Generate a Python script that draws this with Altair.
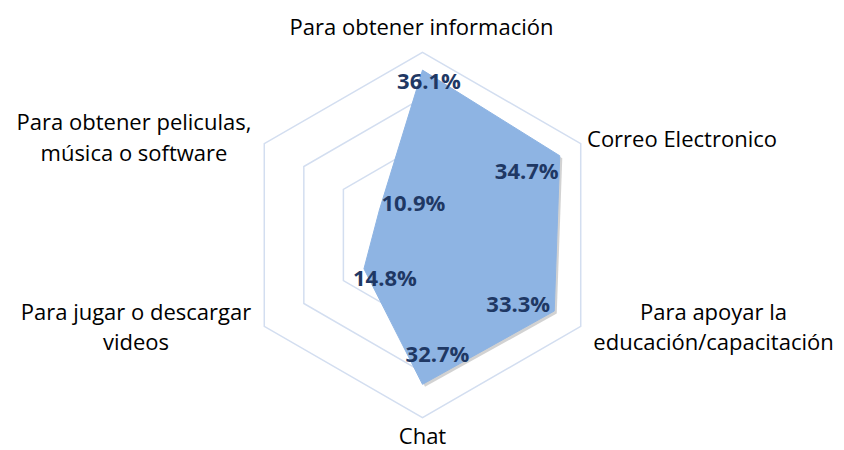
import math
import altair as alt
import pandas as pd

# ---- data ----
categories = [
    "Para obtener información",
    "Correo Electronico",
    "Para apoyar la educación/capacitación",
    "Chat",
    "Para jugar o descargar videos",
    "Para obtener peliculas, música o software",
]
category_lines = [
    ["Para obtener información"],
    ["Correo Electronico"],
    ["Para apoyar la", "educación/capacitación"],
    ["Chat"],
    ["Para jugar o descargar", "videos"],
    ["Para obtener peliculas,", "música o software"],
]
values = [36.1, 34.7, 33.3, 32.7, 14.8, 10.9]
value_labels = ["36.1%", "34.7%", "33.3%", "32.7%", "14.8%", "10.9%"]
grid_levels = [10, 20, 30, 40]

# ---- layout (pixels) ----
W, H = 828, 442
CX, CY = 414.5, 227.0          # centre inside the plot area
PX_PER_UNIT = 182.7 / 40.0     # outer ring (40%) radius in px

x_dom = [-CX / PX_PER_UNIT, (W - CX) / PX_PER_UNIT]
y_dom = [-(H - CY) / PX_PER_UNIT, CY / PX_PER_UNIT]
xs = alt.Scale(domain=x_dom, nice=False, zero=False)
ys = alt.Scale(domain=y_dom, nice=False, zero=False)

n = len(categories)
ang = [2 * math.pi * i / n for i in range(n)]


def polar(r, a):
    return r * math.sin(a), r * math.cos(a)


# grid rings
grid_rows = []
for lv in grid_levels:
    for i in range(n):
        x, y = polar(lv, ang[i])
        grid_rows.append({"level": lv, "i": i, "x": x, "y": y})
grid_df = pd.DataFrame(grid_rows)

# data polygon
poly_rows = []
for i in range(n):
    x, y = polar(values[i], ang[i])
    poly_rows.append({"i": i, "cat": categories[i], "v": values[i],
                      "label": value_labels[i], "x": x, "y": y})
poly_df = pd.DataFrame(poly_rows)

enc = dict(
    x=alt.X("x:Q", scale=xs, axis=None),
    y=alt.Y("y:Q", scale=ys, axis=None),
    order=alt.Order("i:O"),
)

grid = alt.Chart(grid_df).mark_line(
    interpolate="linear-closed", stroke="#D3DEF0", strokeWidth=1.5
).encode(detail="level:N", **enc)

shadow = alt.Chart(poly_df).transform_calculate(
    x="datum.x + 0.55", y="datum.y - 0.55"
).mark_line(
    interpolate="linear-closed", fill="#7f7f7f", fillOpacity=0.35,
    strokeOpacity=0
).encode(**enc)

area = alt.Chart(poly_df).mark_line(
    interpolate="linear-closed", fill="#8EB4E3", fillOpacity=1,
    stroke="#8EB4E3", strokeWidth=1
).encode(**enc)

layers = [grid, shadow, area]

# value labels (offsets are styling, in px)
val_off = [(6.5, 12), (-33, 16), (-36, -6), (15, -29), (21, 10), (34, -6)]
for i in range(n):
    d = poly_df.iloc[[i]]
    dx, dy = val_off[i]
    layers.append(
        alt.Chart(d).mark_text(
            font="Open Sans", fontSize=22, fontWeight="bold", color="#1F3864",
            align="center", baseline="middle", dx=dx, dy=dy
        ).encode(x=alt.X("x:Q", scale=xs, axis=None),
                 y=alt.Y("y:Q", scale=ys, axis=None),
                 text="label:N")
    )

# category labels anchored at outer-ring vertices
cat_style = [
    ("center", -1, -17.3),
    ("left", 6.3, 3.7),
    ("center", 132.8, -6.4),
    ("center", 0, 26.0),
    ("center", -128.3, -6.4),
    ("center", -130.3, -13.6),
]
for i in range(n):
    x, y = polar(grid_levels[-1], ang[i])
    d = pd.DataFrame([{"x": x, "y": y}])
    al, dx, dy = cat_style[i]
    layers.append(
        alt.Chart(d).mark_text(
            text=category_lines[i], font="Open Sans", fontSize=22,
            color="#000000", align=al, baseline="alphabetic",
            dx=dx, dy=dy, lineHeight=30.5
        ).encode(x=alt.X("x:Q", scale=xs, axis=None),
                 y=alt.Y("y:Q", scale=ys, axis=None))
    )

chart = alt.layer(*layers).properties(
    width=W, height=H, padding=0, autosize="none"
).configure_view(stroke=None)

chart.save("out.html", embed_options={"renderer": "svg", "actions": False})
